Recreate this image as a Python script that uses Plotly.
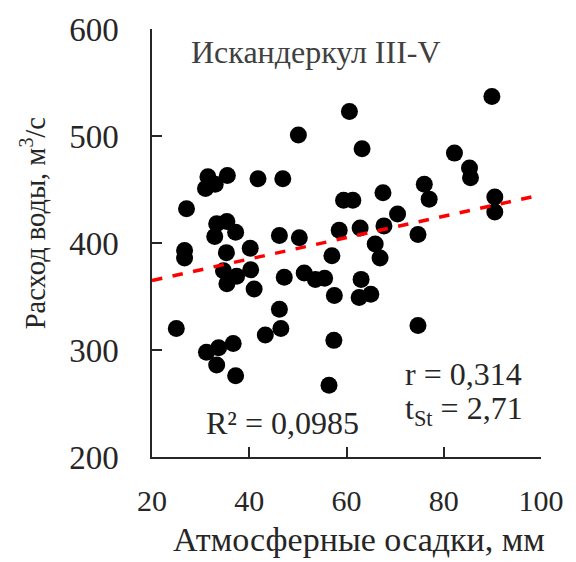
import plotly.graph_objects as go

# Atmospheric precipitation (mm) vs. water discharge (m3/s), Iskanderkul, months III-V
precip_mm = [
    89.9, 60.6, 50.1, 63.2, 82.2, 85.3, 85.5, 76.0, 77.0, 90.5,
    90.5, 70.5, 74.7, 74.7, 59.4, 61.3, 67.5, 67.7, 58.5, 62.8,
    65.9, 66.9, 63.0, 62.6, 65.0, 57.0, 57.5, 57.4, 56.4, 55.5,
    53.6, 51.3, 47.2, 50.3, 46.2, 46.9, 41.8, 46.2, 46.5, 43.3,
    31.5, 35.5, 31.0, 33.0, 27.1, 33.3, 35.4, 37.2, 32.9, 35.3,
    40.2, 26.7, 26.7, 34.7, 37.4, 40.3, 35.4, 41.0, 25.0, 31.2,
    33.7, 36.7, 33.3, 37.2,
]
discharge_m3s = [
    537, 523, 501, 488, 484, 470, 461, 455, 441, 443,
    429, 427, 408, 323, 440, 440, 447, 416, 412, 414,
    399, 386, 366, 349, 352, 388, 351, 309, 267, 367,
    366, 372, 368, 405, 407, 460, 460, 338, 320, 314,
    462, 463, 451, 455, 432, 418, 420, 410, 406, 391,
    395, 393, 386, 374, 369, 375, 362, 357, 320, 298,
    302, 306, 286, 276,
]

# Linear trend y = a*x + b
trend_slope = 1.0
trend_intercept = 345.0
trend_x = [20, 100]
trend_y = [trend_slope * x + trend_intercept for x in trend_x]

x_ticks = [20, 40, 60, 80, 100]
y_ticks = [200, 300, 400, 500, 600]

FONT = "Liberation Serif, Times New Roman, serif"
TXT = "#262626"

fig = go.Figure()
fig.add_trace(go.Scatter(
    x=precip_mm, y=discharge_m3s, mode="markers",
    marker=dict(color="black", size=17, line=dict(width=0)),
    showlegend=False, hoverinfo="x+y",
))
fig.add_trace(go.Scatter(
    x=trend_x, y=trend_y, mode="lines",
    line=dict(color="#ff0000", width=3.5, dash="dash"),
    showlegend=False, hoverinfo="skip",
))

axis_common = dict(
    showgrid=False, zeroline=False, showline=True, linecolor="#262626",
    linewidth=1.5, ticks="inside", ticklen=10, tickwidth=1.5,
    tickcolor="#262626",
)

fig.update_layout(
    width=576, height=562,
    margin=dict(l=152, r=29, t=27, b=105),
    paper_bgcolor="white", plot_bgcolor="white",
    xaxis=dict(
        range=[20, 100], tickvals=x_ticks,
        tickfont=dict(family=FONT, size=30, color=TXT),
        ticklabelstandoff=16,
        **axis_common,
    ),
    yaxis=dict(
        range=[200, 600], tickvals=y_ticks,
        tickfont=dict(family=FONT, size=33, color=TXT),
        ticklabelstandoff=25,
        **axis_common,
    ),
    annotations=[
        # axis titles
        dict(text="Атмосферные осадки, мм", x=0.532, y=-0.193,
             xref="paper", yref="paper", xanchor="center", yanchor="middle",
             showarrow=False, font=dict(family=FONT, size=34, color=TXT)),
        dict(text="Расход воды, м<sup>3</sup>/с", x=-0.305, y=0.547,
             xref="paper", yref="paper", xanchor="center", yanchor="middle",
             textangle=-90, showarrow=False,
             font=dict(family=FONT, size=28.5, color=TXT)),
        # in-plot labels
        dict(text="Искандеркул III-V", x=0.094, y=0.947, xref="paper", yref="paper",
             xanchor="left", yanchor="middle", showarrow=False,
             font=dict(family=FONT, size=32, color="#404040")),
        dict(text="R² = 0,0985", x=0.134, y=0.079, xref="paper", yref="paper",
             xanchor="left", yanchor="middle", showarrow=False,
             font=dict(family=FONT, size=32, color=TXT)),
        dict(text="r = 0,314", x=0.646, y=0.195, xref="paper", yref="paper",
             xanchor="left", yanchor="middle", showarrow=False,
             font=dict(family=FONT, size=32, color=TXT)),
        dict(text="t<sub>St</sub> = 2,71", x=0.646, y=0.109, xref="paper", yref="paper",
             xanchor="left", yanchor="middle", showarrow=False,
             font=dict(family=FONT, size=32, color=TXT)),
    ],
)

fig.write_html("out.html")
